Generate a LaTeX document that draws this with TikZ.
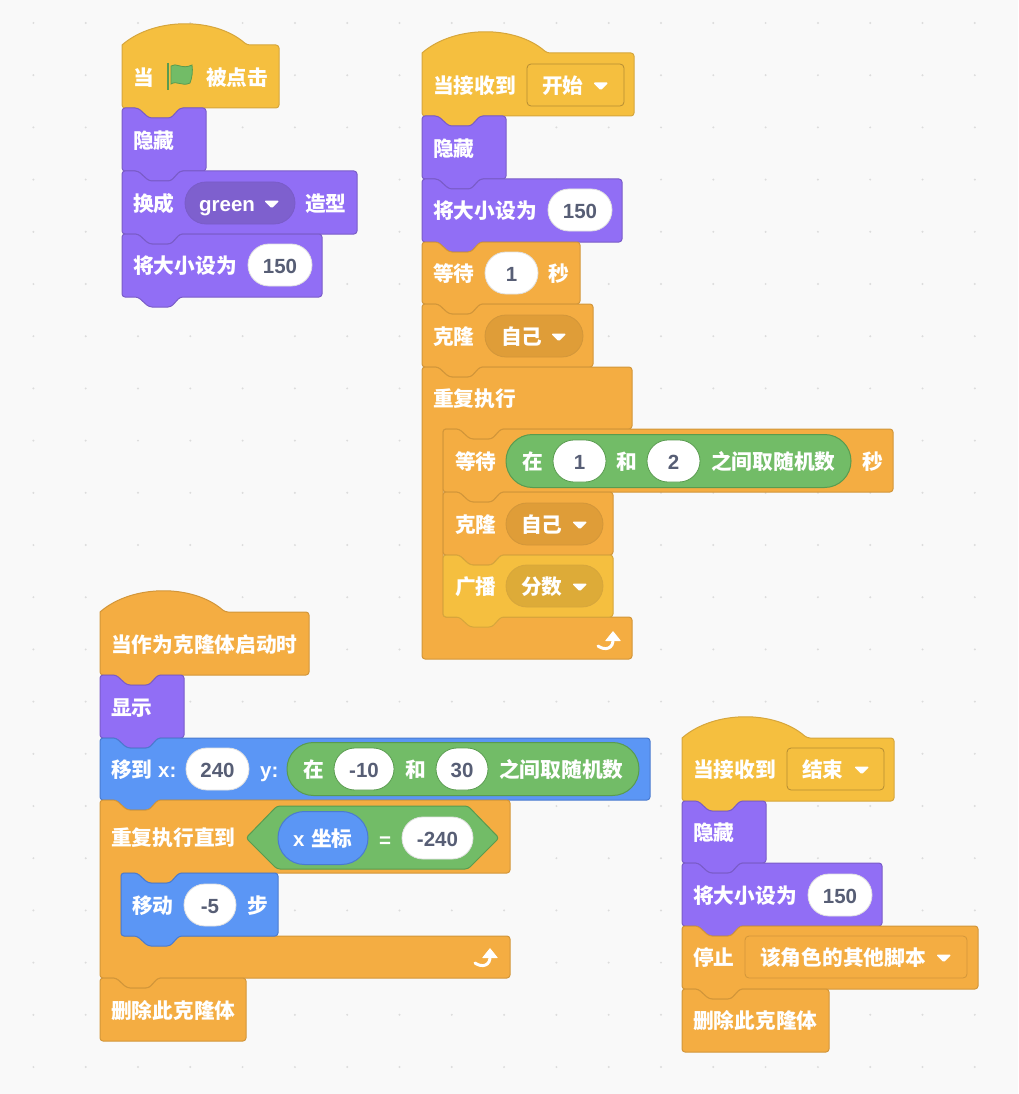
\documentclass[tikz,border=0pt]{standalone}
\usepackage{fontspec}
\setmainfont{Liberation Sans}
\newfontfamily\cjkfont{Noto Sans CJK SC}
\definecolor{pagebg}{HTML}{F9F9F9}
\definecolor{griddot}{HTML}{DCDCDC}
\definecolor{eventsfill}{HTML}{F5BF3F}
\definecolor{eventsline}{HTML}{D6A63C}
\definecolor{eventsdark}{HTML}{DDAB38}
\definecolor{controlfill}{HTML}{F4AD42}
\definecolor{controlline}{HTML}{D2963A}
\definecolor{controldark}{HTML}{DF9D38}
\definecolor{looksfill}{HTML}{916EF5}
\definecolor{looksline}{HTML}{7A5CC8}
\definecolor{looksdark}{HTML}{7E60CE}
\definecolor{motionfill}{HTML}{5B96F5}
\definecolor{motionline}{HTML}{4A7BD0}
\definecolor{opfill}{HTML}{72BC67}
\definecolor{opline}{HTML}{599B4F}
\definecolor{numtext}{HTML}{575E75}
\tikzset{
  anyblock/.style={line width=1pt,rounded corners=3pt,line join=round},
  eventsblock/.style={anyblock,fill=eventsfill,draw=eventsline},
  controlblock/.style={anyblock,fill=controlfill,draw=controlline},
  looksblock/.style={anyblock,fill=looksfill,draw=looksline},
  motionblock/.style={anyblock,fill=motionfill,draw=motionline},
  opblock/.style={anyblock,fill=opfill,draw=opline},
  lbl/.style={anchor=west,inner sep=0pt,text=white,text height=16.5pt,text depth=0pt,font=\cjkfont\bfseries\fontsize{20.7}{24}\selectfont},
  latinlbl/.style={lbl,font=\bfseries\fontsize{20.5}{24}\selectfont},
  numpill/.style={rectangle,rounded corners=20.9pt,fill=white,draw=black!12,line width=.8pt,inner sep=0pt,minimum height=42pt,text=numtext,text height=16pt,text depth=0pt,font=\bfseries\fontsize{20.5}{24}\selectfont},
  oppill/.style={numpill,draw=opline},
  menupill/.style={rectangle,rounded corners=20.9pt,line width=.8pt,inner sep=0pt,minimum height=42pt},
  menubox/.style={rectangle,rounded corners=4pt,line width=.8pt,inner sep=0pt,minimum height=42pt,fill=eventsfill,draw=eventsline!85!black},
  reporter/.style={rectangle,rounded corners=26.4pt,fill=opfill,draw=opline,line width=1pt,inner sep=0pt,minimum height=53pt}
}
\newcommand{\notchedge}[2]{-- (#1+16,#2) -- (#1+27,#2+10) -- (#1+49,#2+10) -- (#1+58,#2)}
\newcommand{\tabedge}[2]{-- (#1+58,#2) -- (#1+49,#2+10) -- (#1+27,#2+10) -- (#1+16,#2)}
\newcommand{\stackblock}[5]{\draw[#5] (#1+8,#2) \notchedge{#1}{#2} -- (#3,#2) -- (#3,#4) \tabedge{#1}{#4} -- (#1,#4) -- (#1,#2) -- cycle;}
\newcommand{\capblock}[5]{\draw[#5] (#1+8,#2) \notchedge{#1}{#2} -- (#3,#2) -- (#3,#4) -- (#1,#4) -- (#1,#2) -- cycle;}
\newcommand{\hatblock}[5]{\draw[#5] (#1,#2) .. controls (#1+32,#2-28) and (#1+93,#2-28) .. (#1+125,#2) [rounded corners=3pt] -- (#3,#2) -- (#3,#4) \tabedge{#1}{#4} -- (#1,#4) [rounded corners=0pt] -- (#1,#2) -- cycle;}
\newcommand{\loopshape}[7]{\draw[#7] (#1+8,#2) \notchedge{#1}{#2} -- (#3,#2) -- (#3,#4) \tabedge{#1+21}{#4} -- (#1+21,#4) -- (#1+21,#5) -- (#3,#5) -- (#3,#6) -- (#1,#6) -- (#1,#2) -- cycle;}
\newcommand{\looptabshape}[7]{\draw[#7] (#1+8,#2) \notchedge{#1}{#2} -- (#3,#2) -- (#3,#4) \tabedge{#1+21}{#4} -- (#1+21,#4) -- (#1+21,#5) -- (#3,#5) -- (#3,#6) \tabedge{#1}{#6} -- (#1,#6) -- (#1,#2) -- cycle;}
\newcommand{\menucaret}[2]{\fill[white,rounded corners=1.5pt] (#1-1,#2-2.5) -- (#1+14.5,#2-2.5) -- (#1+6.75,#2+5.5) -- cycle;}
\newcommand{\looparrow}[2]{\draw[white,line width=3pt,line cap=round] (#1+1,#2+15) .. controls (#1+8,#2+20) and (#1+17,#2+18) .. (#1+16,#2+7);
  \fill[white,rounded corners=.6pt] (#1+8,#2+10) -- (#1+16,#2) -- (#1+24,#2+10) -- cycle;}
\begin{document}
\begin{tikzpicture}[x=1pt,y=-1pt]
  \useasboundingbox (0,0) rectangle (1018,1094);
  \fill[pagebg] (0,0) rectangle (1018,1094);
  \foreach \i in {0,...,18} \foreach \j in {0,...,20} \fill[griddot] ({33.4+\i*52.3},{23+\j*52.2}) circle (1.1pt);

  \hatblock{122}{45}{279}{108}{eventsblock}
  \node[lbl] (whenA) at (133,77) {当};
  \draw[line width=.8pt,draw=opline,fill=opfill] (171,66) .. controls (176,62) and (182,70) .. (192,65) .. controls (193,71) and (192,78) .. (190,83) .. controls (182,87) and (177,80) .. (171,84) -- cycle;
  \draw[line width=2pt,draw=opline] (168,63) -- (168,90);
  \node[lbl] (clickedA) at (206,77) {被点击};
  \stackblock{122}{108}{206}{171}{looksblock}
  \node[lbl] (hideA) at (133,140) {隐藏};
  \stackblock{122}{171}{357}{234}{looksblock}
  \node[lbl] (switchA) at (133,203) {换成};
  \node[menupill,fill=looksdark,draw=looksline,minimum width=110pt] (costumeA) at (240,203) {};
  \node[latinlbl] (costumeText) at (199,203) {green};
  \menucaret{265}{203}
  \node[lbl] (costumeEnd) at (305,203) {造型};
  \stackblock{122}{234}{322}{297}{looksblock}
  \node[lbl] (sizeA) at (133,265) {将大小设为};
  \node[numpill,minimum width=64pt] (sizeValA) at (280,265) {150};

  \hatblock{422}{53}{634}{116}{eventsblock}
  \node[lbl] (receiveB) at (433,85) {当接收到};
  \node[menubox,minimum width=97pt] (msgB) at (575.5,85) {};
  \node[lbl] (msgTextB) at (542,85) {开始};
  \menucaret{594}{85}
  \stackblock{422}{116}{506}{179}{looksblock}
  \node[lbl] (hideB) at (433,148) {隐藏};
  \stackblock{422}{179}{622}{242}{looksblock}
  \node[lbl] (sizeB) at (433,210) {将大小设为};
  \node[numpill,minimum width=64pt] (sizeValB) at (580,210) {150};
  \stackblock{422}{242}{580}{304}{controlblock}
  \node[lbl] (waitB) at (433,273) {等待};
  \node[numpill,minimum width=53pt] (waitValB) at (511.5,273) {1};
  \node[lbl] (secB) at (548,273) {秒};
  \stackblock{422}{304}{593}{367}{controlblock}
  \node[lbl] (cloneB) at (433,336) {克隆};
  \node[menupill,fill=controldark,draw=controlline,minimum width=98pt] (cloneMenuB) at (534,336) {};
  \node[lbl] (cloneTextB) at (501,336) {自己};
  \menucaret{552}{336}
  \loopshape{422}{367}{632}{429}{617}{659}{controlblock}
  \node[lbl] (foreverB) at (433,398) {重复执行};
  \looparrow{597}{631}
  \stackblock{443}{429}{893}{492}{controlblock}
  \node[lbl] (waitC) at (455,461) {等待};
  \node[reporter,minimum width=345pt] (randC) at (678.5,461) {};
  \node[lbl] (inC) at (522,461) {在};
  \node[oppill,minimum width=53pt] (lowC) at (579.5,461) {1};
  \node[lbl] (andC) at (616,461) {和};
  \node[oppill,minimum width=53pt] (highC) at (673.5,461) {2};
  \node[lbl] (betweenC) at (711,461) {之间取随机数};
  \node[lbl] (secC) at (862,461) {秒};
  \stackblock{443}{492}{613}{555}{controlblock}
  \node[lbl] (cloneC) at (455,524) {克隆};
  \node[menupill,fill=controldark,draw=controlline,minimum width=97pt] (cloneMenuC) at (554.5,524) {};
  \node[lbl] (cloneTextC) at (521,524) {自己};
  \menucaret{573}{524}
  \stackblock{443}{555}{613}{617}{eventsblock}
  \node[lbl] (castC) at (455,586) {广播};
  \node[menupill,fill=eventsdark,draw=eventsline,minimum width=97pt] (castMenuC) at (554.5,586) {};
  \node[lbl] (castTextC) at (521,586) {分数};
  \menucaret{573}{586}

  \hatblock{100}{612}{309}{675}{controlblock}
  \node[lbl] (startD) at (111,644) {当作为克隆体启动时};
  \stackblock{100}{675}{184}{738}{looksblock}
  \node[lbl] (showD) at (111,707) {显示};
  \stackblock{100}{738}{650}{800}{motionblock}
  \node[lbl] (gotoD) at (111,769) {移到};
  \node[latinlbl] (xD) at (158,769) {x:};
  \node[numpill,minimum width=63pt] (xValD) at (217.5,769) {240};
  \node[latinlbl] (yD) at (260,769) {y:};
  \node[reporter,minimum width=352pt] (randD) at (463,769) {};
  \node[lbl] (inD) at (303,769) {在};
  \node[oppill,minimum width=60pt] (lowD) at (364,769) {-10};
  \node[lbl] (andD) at (405,769) {和};
  \node[oppill,minimum width=52pt] (highD) at (462,769) {30};
  \node[lbl] (betweenD) at (499,769) {之间取随机数};
  \looptabshape{100}{800}{510}{873}{936}{978}{controlblock}
  \node[lbl] (untilD) at (111,837) {重复执行直到};
  \draw[opblock] (246,838) -- (277,806) -- (468,806) -- (499,838) -- (468,869) -- (277,869) -- cycle;
  \node[reporter,fill=motionfill,draw=motionline,minimum width=90pt] (xposD) at (323,838) {};
  \node[latinlbl] (xposVar) at (293,838) {x};
  \node[lbl] (xposText) at (311,838) {坐标};
  \node[latinlbl] (equalsD) at (379,839) {=};
  \node[numpill,minimum width=71pt] (limitD) at (437.5,838) {-240};
  \looparrow{474}{948}
  \stackblock{121}{873}{278}{936}{motionblock}
  \node[lbl] (moveD) at (132,905) {移动};
  \node[numpill,minimum width=52pt] (moveValD) at (210,905) {-5};
  \node[lbl] (stepsD) at (247,905) {步};
  \capblock{100}{978}{246}{1041}{controlblock}
  \node[lbl] (deleteD) at (111,1010) {删除此克隆体};

  \hatblock{682}{738}{894}{801}{eventsblock}
  \node[lbl] (receiveE) at (693,769) {当接收到};
  \node[menubox,minimum width=97pt] (msgE) at (835.5,769) {};
  \node[lbl] (msgTextE) at (802,769) {结束};
  \menucaret{855}{769}
  \stackblock{682}{801}{766}{863}{looksblock}
  \node[lbl] (hideE) at (693,832) {隐藏};
  \stackblock{682}{863}{882}{926}{looksblock}
  \node[lbl] (sizeE) at (693,895) {将大小设为};
  \node[numpill,minimum width=64pt] (sizeValE) at (840,895) {150};
  \stackblock{682}{926}{978}{989}{controlblock}
  \node[lbl] (stopE) at (693,957) {停止};
  \node[menubox,fill=controlfill,draw=controlline,minimum width=222pt] (stopMenuE) at (856,957) {};
  \node[lbl] (stopTextE) at (760,957) {该角色的其他脚本};
  \menucaret{937}{957}
  \capblock{682}{989}{829}{1052}{controlblock}
  \node[lbl] (deleteE) at (693,1020) {删除此克隆体};
\end{tikzpicture}
\end{document}
